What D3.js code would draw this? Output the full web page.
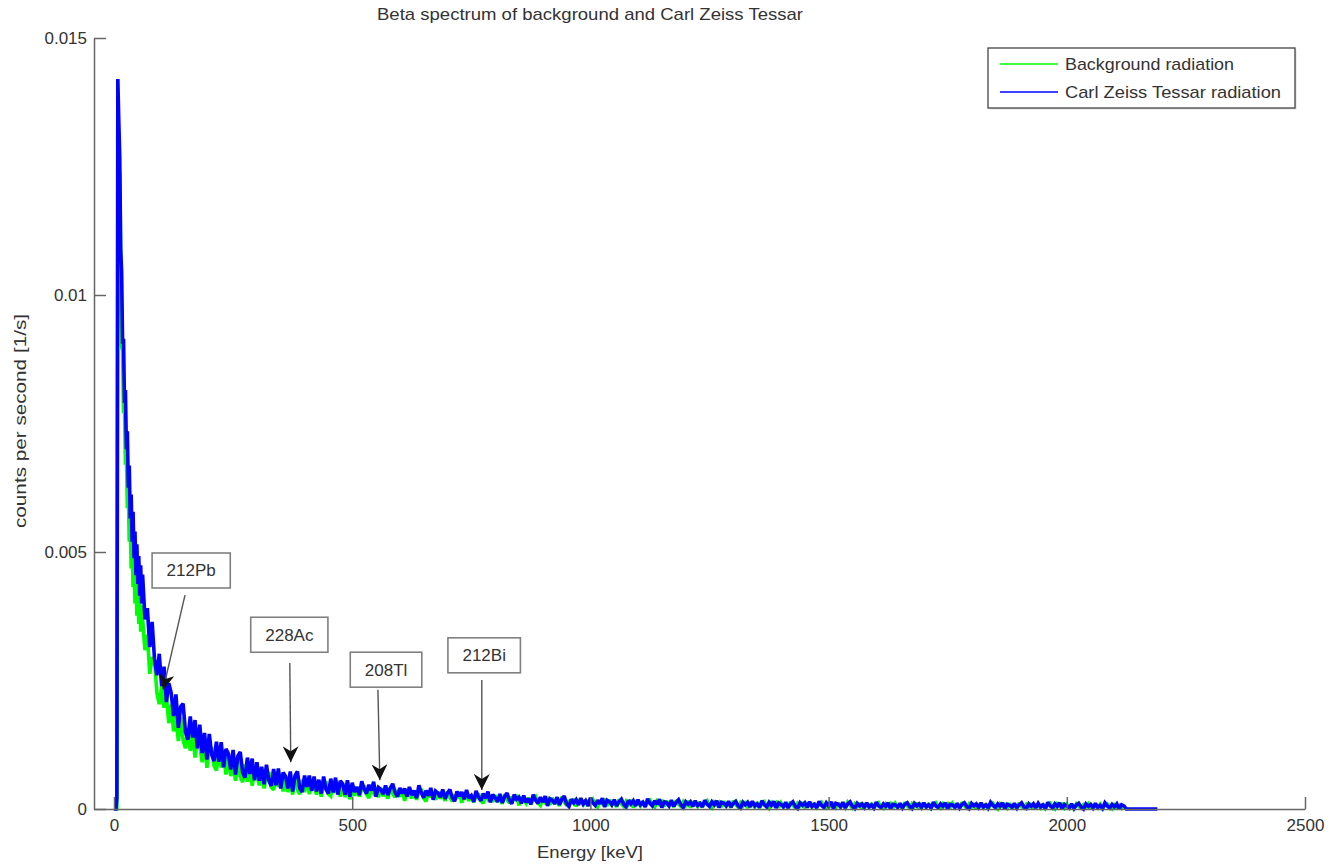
<!DOCTYPE html>
<html>
<head>
<meta charset="utf-8">
<script src="https://cdn.jsdelivr.net/npm/d3@7"></script>
<style>
    html, body { margin: 0; padding: 0; background: #fff; }
    svg text { font-family: "Liberation Sans", Arial, Helvetica, sans-serif; fill: #333; }
</style>
</head>
<body>
<svg id="chart" width="1343" height="867"></svg>
<script>
const title = 'Beta spectrum of background and Carl Zeiss Tessar';
const xLabel = 'Energy [keV]';
const yLabel = 'counts per second [1/s]';
const xTicks = [0, 500, 1000, 1500, 2000, 2500];
const yTicks = [0, 0.005, 0.01, 0.015];
const seriesNames = ['Background radiation', 'Carl Zeiss Tessar radiation'];
const seriesColors = ['#00ff00', '#0000ff'];

// channel energies in keV (finer near the low-energy peak)
const headEnergy = d3.range(0, 60, 2);
const midEnergy = d3.range(60, 500, 5);
const tailEnergy = d3.range(500, 2195, 5);

// counts per second, stored in units of 1e-5 1/s
const COUNT_UNIT = 1e-5;

const bgHead = [0, 0, 0, 0, 1150, 1200, 1240, 1075, 900, 890, 770, 780, 670, 690, 585, 615, 520, 558, 468, 512,
    432, 480, 400, 452, 376, 430, 360, 412, 345, 396];
const bgMid = [369, 309, 339, 263, 295, 290, 226, 204, 239, 197, 220, 167, 203, 151, 181, 132, 178, 134, 118, 157,
    113, 153, 100, 137, 125, 91, 132, 80, 115, 120, 84, 75, 109, 81, 106, 67, 101, 64, 91, 55,
    96, 63, 52, 87, 53, 87, 45, 78, 68, 46, 74, 40, 65, 72, 43, 37, 64, 43, 64, 34,
    62, 33, 56, 28, 62, 37, 29, 57, 33, 57, 29, 52, 46, 28, 53, 24, 48, 54, 29, 25,
    49, 31, 50, 24, 49, 23, 43, 19];
const bgTail = [
    35, 26, 43, 24, 38, 46, 29, 21, 42, 31, 37, 23, 41, 25, 33, 20, 43, 30, 23, 37,
    24, 39, 16, 33, 29, 21, 36, 18, 32, 39, 21, 15, 32, 23, 31, 18, 34, 20, 28, 16,
    34, 22, 15, 28, 20, 33, 12, 27, 24, 16, 28, 13, 24, 30, 17, 11, 27, 19, 26, 14,
    27, 14, 21, 10, 29, 18, 12, 24, 16, 28, 7, 20, 17, 11, 22, 9, 19, 24, 12, 7,
    20, 13, 19, 8, 22, 10, 16, 6, 24, 14, 7, 17, 10, 20, 5, 16, 13, 8, 18, 6,
    14, 19, 8, 4, 16, 10, 16, 6, 18, 8, 13, 4, 19, 10, 5, 15, 9, 18, 3, 14,
    11, 6, 15, 5, 13, 17, 8, 4, 15, 9, 14, 5, 16, 7, 11, 4, 17, 9, 5, 14,
    7, 16, 3, 12, 10, 5, 14, 4, 12, 16, 6, 2, 13, 8, 13, 4, 15, 6, 10, 3,
    16, 8, 4, 12, 6, 15, 2, 11, 9, 4, 13, 2, 10, 14, 5, 1, 12, 7, 12, 3,
    12, 5, 9, 2, 14, 7, 3, 11, 6, 13, 2, 10, 8, 4, 12, 3, 9, 13, 5, 2,
    11, 6, 10, 3, 12, 4, 8, 2, 13, 7, 2, 10, 5, 12, 1, 9, 7, 3, 11, 2,
    8, 12, 4, 1, 10, 5, 10, 2, 11, 4, 8, 1, 13, 6, 2, 10, 5, 12, 1, 9,
    7, 3, 11, 2, 8, 12, 4, 1, 10, 5, 10, 2, 11, 4, 8, 1, 13, 6, 2, 10,
    4, 11, 0, 8, 7, 2, 10, 1, 8, 11, 4, 0, 10, 5, 9, 2, 11, 3, 7, 1,
    12, 5, 2, 9, 4, 11, 0, 8, 7, 2, 10, 1, 8, 11, 4, 0, 10, 5, 9, 2,
    9, 3, 7, 1, 10, 5, 2, 8, 4, 10, 0, 7, 6, 2, 9, 1, 7, 10, 3, 0,
    8, 4, 7, 2, 9];

const tessarHead = [0, 0, 0, 22, 1420, 1340, 1270, 1090, 1045, 905, 915, 790, 815, 700, 735, 625, 668, 565, 612, 520,
    578, 488, 540, 455, 515, 438, 492, 415, 474, 400];
const tessarMid = [456, 369, 391, 315, 364, 292, 260, 302, 239, 277, 208, 245, 226, 181, 223, 158, 199, 205, 150, 135,
    180, 139, 173, 118, 164, 109, 148, 96, 146, 106, 93, 131, 92, 130, 81, 117, 108, 77, 115, 67,
    103, 111, 71, 61, 100, 68, 98, 56, 91, 55, 82, 48, 86, 55, 45, 78, 46, 79, 40, 71,
    64, 40, 73, 34, 65, 73, 40, 33, 65, 43, 65, 35, 63, 34, 57, 30, 63, 38, 30, 59,
    32, 61, 28, 55, 49, 28, 56, 24];
const tessarTail = [
    51, 33, 43, 27, 54, 39, 30, 47, 36, 53, 24, 42, 38, 29, 46, 27, 41, 49, 32, 24,
    41, 30, 40, 24, 43, 27, 36, 21, 46, 32, 22, 36, 26, 41, 18, 35, 31, 23, 38, 20,
    31, 38, 22, 15, 34, 25, 33, 19, 37, 21, 26, 14, 35, 23, 16, 30, 21, 34, 13, 28,
    22, 14, 29, 12, 24, 31, 17, 10, 28, 19, 23, 11, 26, 13, 20, 9, 28, 17, 11, 23,
    13, 25, 6, 20, 17, 10, 23, 8, 19, 25, 10, 5, 19, 12, 18, 8, 21, 10, 16, 6,
    22, 12, 7, 17, 10, 21, 4, 17, 14, 8, 18, 6, 14, 19, 9, 4, 17, 10, 16, 6,
    18, 8, 13, 4, 20, 11, 6, 16, 9, 19, 3, 14, 12, 6, 17, 5, 13, 18, 8, 3,
    14, 9, 14, 5, 16, 7, 11, 4, 17, 9, 5, 14, 8, 16, 3, 13, 11, 6, 15, 4,
    11, 15, 6, 2, 13, 8, 13, 4, 15, 6, 10, 3, 16, 8, 4, 13, 7, 15, 2, 12,
    9, 4, 13, 2, 10, 14, 5, 1, 12, 7, 12, 3, 14, 5, 9, 2, 15, 7, 3, 12,
    6, 14, 1, 11, 9, 4, 13, 2, 10, 14, 5, 1, 11, 6, 10, 3, 12, 4, 8, 2,
    13, 6, 3, 10, 5, 12, 1, 9, 8, 3, 11, 2, 9, 12, 5, 1, 11, 6, 10, 3,
    12, 4, 8, 2, 13, 6, 3, 10, 5, 12, 1, 9, 8, 3, 11, 2, 9, 12, 5, 1,
    11, 6, 10, 3, 12, 4, 8, 2, 13, 7, 3, 10, 5, 12, 1, 9, 7, 3, 11, 2,
    8, 12, 4, 1, 10, 5, 10, 2, 11, 4, 8, 1, 13, 6, 2, 10, 5, 12, 1, 9,
    6, 2, 10, 1, 8, 11, 4, 0, 10, 5, 9, 2, 11, 3, 7, 1, 12, 6, 2, 9,
    4, 10, 0, 8, 6,
    0, 0, 0, 0, 0, 0, 0, 0, 0, 0, 0, 0, 0, 0];

const annotations = [
    { label: '212Pb', box: [162, 0.00464], from: [149, 0.00416], to: [103, 0.00232] },
    { label: '228Ac', box: [368, 0.00339], from: [369, 0.00284], to: [371, 0.00091] },
    { label: '208Tl', box: [571, 0.00271], from: [554, 0.00232], to: [558, 0.00056] },
    { label: '212Bi', box: [777, 0.00299], from: [772, 0.00251], to: [772, 0.00037] }
];

const energies = headEnergy.concat(midEnergy, tailEnergy);
const toPoints = (counts) => counts.map((c, i) => ({ e: energies[i], v: c * COUNT_UNIT }));
const series = [
    toPoints(bgHead.concat(bgMid, bgTail)),
    toPoints(tessarHead.concat(tessarMid, tessarTail))
];

const FONT = 17;
const AXIS_COLOR = '#666';
const plot = { left: 94, right: 1305, top: 38, bottom: 809 };

const svg = d3.select('#chart');

const x = d3.scaleLinear().domain([-42, 2500]).range([plot.left, plot.right]);
const y = d3.scaleLinear().domain([0, 0.015]).range([plot.bottom, plot.top]);

// spectra first, axes drawn over them
const line = d3.line().x(d => x(d.e)).y(d => y(d.v));

series.forEach((pts, i) => {
    svg.append('path')
        .datum(pts)
        .attr('fill', 'none')
        .attr('stroke', seriesColors[i])
        .attr('stroke-width', 3.6)
        .attr('stroke-linejoin', 'miter')
        .attr('stroke-miterlimit', 2)
        .attr('d', line);
});

// axes (MATLAB style: ticks pointing inward, no box)
const xAxis = svg.append('g')
    .attr('transform', `translate(0,${plot.bottom})`)
    .call(d3.axisBottom(x).tickValues(xTicks).tickFormat(d3.format('d'))
        .tickSizeInner(-12).tickSizeOuter(0).tickPadding(10));

const yAxis = svg.append('g')
    .attr('transform', `translate(${plot.left},0)`)
    .call(d3.axisLeft(y).tickValues(yTicks).tickFormat(d => d === 0 ? '0' : String(+d.toFixed(3)))
        .tickSizeInner(-12).tickSizeOuter(0).tickPadding(7));

[xAxis, yAxis].forEach(a => {
    a.select('.domain').attr('stroke', AXIS_COLOR).attr('stroke-width', 1.5);
    a.selectAll('.tick line').attr('stroke', AXIS_COLOR).attr('stroke-width', 1.5);
    a.selectAll('.tick text').attr('fill', '#333').style('font-size', FONT + 'px')
        .style('font-family', '"Liberation Sans", Arial, sans-serif');
});

// annotations: text boxes with arrows
const defs = svg.append('defs');
defs.append('marker')
    .attr('id', 'arrowhead')
    .attr('viewBox', '0 0 16 16')
    .attr('refX', 16)
    .attr('refY', 8)
    .attr('markerWidth', 16)
    .attr('markerHeight', 16)
    .attr('markerUnits', 'userSpaceOnUse')
    .attr('orient', 'auto')
    .append('path')
    .attr('d', 'M0,0 L16,8 L0,16 L5,8 Z')
    .attr('fill', '#111');

annotations.forEach(a => {
    svg.append('line')
        .attr('x1', x(a.from[0])).attr('y1', y(a.from[1]))
        .attr('x2', x(a.to[0])).attr('y2', y(a.to[1]))
        .attr('stroke', '#555')
        .attr('stroke-width', 1.4)
        .attr('marker-end', 'url(#arrowhead)');

    const g = svg.append('g')
        .attr('transform', `translate(${x(a.box[0])},${y(a.box[1])})`);
    const rect = g.append('rect').attr('fill', '#fff').attr('stroke', '#808080').attr('stroke-width', 1.6);
    const t = g.append('text')
        .attr('text-anchor', 'middle')
        .attr('dy', '0.35em')
        .style('font-size', FONT + 'px')
        .text(a.label);
    const w = t.node().getComputedTextLength() + 29;
    const h = 35;
    rect.attr('x', -w / 2).attr('y', -h / 2).attr('width', w).attr('height', h);
});

// titles
svg.append('text')
    .attr('x', 590).attr('y', 20)
    .attr('text-anchor', 'middle')
    .attr('textLength', 426).attr('lengthAdjust', 'spacingAndGlyphs')
    .style('font-size', FONT + 'px')
    .text(title);

svg.append('text')
    .attr('x', 590).attr('y', 858)
    .attr('text-anchor', 'middle')
    .attr('textLength', 106).attr('lengthAdjust', 'spacingAndGlyphs')
    .style('font-size', FONT + 'px')
    .text(xLabel);

svg.append('text')
    .attr('transform', 'translate(26,421) rotate(-90)')
    .attr('text-anchor', 'middle')
    .attr('textLength', 214).attr('lengthAdjust', 'spacingAndGlyphs')
    .style('font-size', FONT + 'px')
    .text(yLabel);

// legend
const legendBox = { x: plot.right - 10 - 307, y: plot.top + 10, w: 307, h: 60 };
const legend = svg.append('g').attr('transform', `translate(${legendBox.x},${legendBox.y})`);
legend.append('rect')
    .attr('x', 1.5).attr('y', 1.5)
    .attr('width', legendBox.w).attr('height', legendBox.h)
    .attr('fill', '#ddd');
legend.append('rect')
    .attr('width', legendBox.w).attr('height', legendBox.h)
    .attr('fill', '#fff').attr('stroke', '#444').attr('stroke-width', 1.3);

const legendWidths = [169, 216];
seriesNames.forEach((name, i) => {
    const cy = 16 + i * 28;
    legend.append('line')
        .attr('x1', 12).attr('x2', 70)
        .attr('y1', cy).attr('y2', cy)
        .attr('stroke', seriesColors[i]).attr('stroke-width', 1.3);
    legend.append('text')
        .attr('x', 77).attr('y', cy)
        .attr('dy', '0.35em')
        .attr('textLength', legendWidths[i]).attr('lengthAdjust', 'spacingAndGlyphs')
        .style('font-size', FONT + 'px')
        .text(name);
});
</script>
</body>
</html>
